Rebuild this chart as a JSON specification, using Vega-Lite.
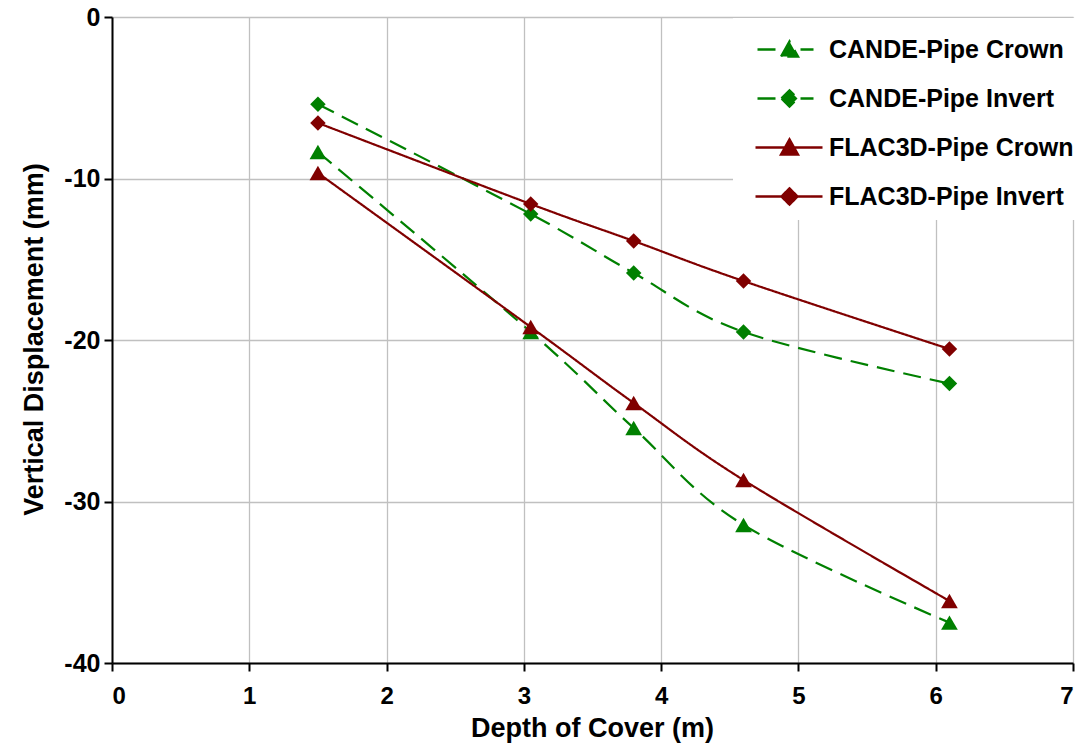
{
  "$schema": "https://vega.github.io/schema/vega-lite/v6.json",
  "width": 961,
  "height": 646,
  "autosize": {"type": "none"},
  "padding": {"left": 112, "top": 17, "right": 12, "bottom": 82},
  "background": "white",
  "config": {
    "font": "Liberation Sans",
    "view": {"stroke": null},
    "axis": {
      "labelFont": "Liberation Sans",
      "labelFontWeight": "bold",
      "labelFontSize": 25,
      "labelColor": "black",
      "titleFont": "Liberation Sans",
      "titleFontWeight": "bold",
      "titleFontSize": 28,
      "titleColor": "black",
      "domainColor": "black",
      "domainWidth": 2,
      "tickColor": "black",
      "tickWidth": 2,
      "tickSize": 8,
      "gridColor": "#c0c0c0",
      "gridWidth": 1.3
    }
  },
  "data": {
    "values": [
      {"depth": 1.5, "disp": -8.36, "series": "CANDE-Pipe Crown", "loc": "Crown"},
      {"depth": 3.05, "disp": -19.5, "series": "CANDE-Pipe Crown", "loc": "Crown"},
      {"depth": 3.8, "disp": -25.45, "series": "CANDE-Pipe Crown", "loc": "Crown"},
      {"depth": 4.6, "disp": -31.45, "series": "CANDE-Pipe Crown", "loc": "Crown"},
      {"depth": 6.1, "disp": -37.5, "series": "CANDE-Pipe Crown", "loc": "Crown"},
      {"depth": 1.5, "disp": -5.4, "series": "CANDE-Pipe Invert", "loc": "Invert"},
      {"depth": 3.05, "disp": -12.2, "series": "CANDE-Pipe Invert", "loc": "Invert"},
      {"depth": 3.8, "disp": -15.85, "series": "CANDE-Pipe Invert", "loc": "Invert"},
      {"depth": 4.6, "disp": -19.5, "series": "CANDE-Pipe Invert", "loc": "Invert"},
      {"depth": 6.1, "disp": -22.7, "series": "CANDE-Pipe Invert", "loc": "Invert"},
      {"depth": 1.5, "disp": -9.66, "series": "FLAC3D-Pipe Crown", "loc": "Crown"},
      {"depth": 3.05, "disp": -19.2, "series": "FLAC3D-Pipe Crown", "loc": "Crown"},
      {"depth": 3.8, "disp": -23.9, "series": "FLAC3D-Pipe Crown", "loc": "Crown"},
      {"depth": 4.6, "disp": -28.67, "series": "FLAC3D-Pipe Crown", "loc": "Crown"},
      {"depth": 6.1, "disp": -36.16, "series": "FLAC3D-Pipe Crown", "loc": "Crown"},
      {"depth": 1.5, "disp": -6.56, "series": "FLAC3D-Pipe Invert", "loc": "Invert"},
      {"depth": 3.05, "disp": -11.58, "series": "FLAC3D-Pipe Invert", "loc": "Invert"},
      {"depth": 3.8, "disp": -13.87, "series": "FLAC3D-Pipe Invert", "loc": "Invert"},
      {"depth": 4.6, "disp": -16.35, "series": "FLAC3D-Pipe Invert", "loc": "Invert"},
      {"depth": 6.1, "disp": -20.56, "series": "FLAC3D-Pipe Invert", "loc": "Invert"}
    ]
  },
  "encoding": {
    "x": {
      "field": "depth",
      "type": "quantitative",
      "scale": {"domain": [0, 7], "nice": false, "zero": false},
      "axis": {
        "values": [0, 1, 2, 3, 4, 5, 6, 7],
        "title": "Depth of Cover (m)",
        "titleFontSize": 27,
        "labelFontSize": 24,
        "labelPadding": 13,
        "titleX": 480,
        "titleY": 73,
        "titleBaseline": "alphabetic"
      }
    },
    "y": {
      "field": "disp",
      "type": "quantitative",
      "scale": {"domain": [-40, 0], "nice": false, "zero": false},
      "axis": {
        "values": [-40, -30, -20, -10, 0],
        "labelExpr": "toString(datum.value)",
        "title": "Vertical Displacement (mm)",
        "titleFontSize": 27,
        "labelPadding": 4,
        "titleX": -70,
        "titleY": 322,
        "titleBaseline": "alphabetic"
      }
    },
    "color": {
      "field": "series",
      "type": "nominal",
      "scale": {
        "domain": ["CANDE-Pipe Crown", "CANDE-Pipe Invert", "FLAC3D-Pipe Crown", "FLAC3D-Pipe Invert"],
        "range": ["#008000", "#008000", "#800000", "#800000"]
      },
      "legend": {
        "title": null,
        "orient": "none",
        "legendX": 621,
        "legendY": 1,
        "fillColor": "white",
        "padding": 10,
        "symbolSize": 1600,
        "symbolStrokeWidth": 2.5,
        "labelOffset": 43,
        "rowPadding": 14,
        "labelFont": "Liberation Sans",
        "labelFontWeight": "bold",
        "labelFontSize": 25,
        "labelColor": "black",
        "labelLimit": 400,
        "encode": {
          "symbols": {
            "update": {
              "shape": {"signal": "datum.value === 'CANDE-Pipe Crown' ? 'M-0.35,0H0.7M1.8,0H2.45M0.83,0.35L1.25,-0.4L1.67,0.35Z' : datum.value === 'CANDE-Pipe Invert' ? 'M-0.35,0H0.7M1.8,0H2.45M0.85,0L1.25,-0.4L1.65,0L1.25,0.4Z' : datum.value === 'FLAC3D-Pipe Crown' ? 'M-0.45,0H2.9M0.83,0.35L1.25,-0.4L1.67,0.35Z' : 'M-0.45,0H2.9M0.85,0L1.25,-0.4L1.65,0L1.25,0.4Z'"},
              "fill": {"scale": "color", "field": "value"},
              "stroke": {"scale": "color", "field": "value"},
              "strokeDash": {"value": [1, 0]},
              "opacity": {"value": 1},
              "fillOpacity": {"value": 1}
            }
          }
        }
      }
    }
  },
  "layer": [
    {
      "mark": {"type": "line", "strokeWidth": 2.2, "interpolate": "cardinal"},
      "encoding": {
        "strokeDash": {
          "field": "series",
          "type": "nominal",
          "scale": {
            "domain": ["CANDE-Pipe Crown", "CANDE-Pipe Invert", "FLAC3D-Pipe Crown", "FLAC3D-Pipe Invert"],
            "range": [[18, 9], [18, 9], [1, 0], [1, 0]]
          },
          "legend": null
        }
      }
    },
    {
      "transform": [{"filter": "datum.loc === 'Crown'"}],
      "mark": {"type": "point", "filled": true, "opacity": 1, "size": 280, "shape": "triangle-up"}
    },
    {
      "transform": [{"filter": "datum.loc === 'Invert'"}],
      "mark": {"type": "point", "filled": true, "opacity": 1, "size": 240, "shape": "diamond"}
    }
  ]
}
